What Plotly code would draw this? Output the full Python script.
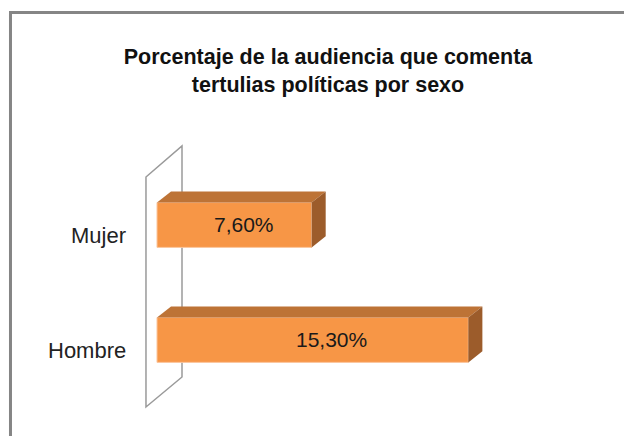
import plotly.graph_objects as go

# datos
categories = ["Hombre", "Mujer"]
values = [15.3, 7.6]
title_text = "Porcentaje de la audiencia que comenta<br>tertulias políticas por sexo"

FRONT = "#F79646"
TOP = "#BD7336"
SIDE = "#9C5C2B"
FONT = "Liberation Sans, Arial, sans-serif"

bar_w = 0.39     # grosor de la barra (unidades de categoria)
dx, dy = 0.69, 0.096   # profundidad del efecto 3D
pos = list(range(len(categories)))

# la pagina tiene un margen de 8px en el body, la figura se reduce para caber sin scroll
fig = go.Figure(
    data=go.Bar(
        x=values,
        y=pos,
        orientation="h",
        width=bar_w,
        marker={"color": FRONT, "line": {"color": "#FBC7A0", "width": 1}},
        hoverinfo="skip",
    ),
    layout={
        "width": 616,
        "height": 428,
        "margin": {"l": 132, "r": 12, "t": 122, "b": 6},
        "paper_bgcolor": "white",
        "plot_bgcolor": "rgba(0,0,0,0)",
        "showlegend": False,
        "hovermode": False,
        "xaxis": {"range": [-0.835, 22.36], "visible": False},
        "yaxis": {"range": [-0.783, 1.826], "visible": False},
        "title": {
            "text": "<b>" + title_text + "</b>",
            "font": {"family": FONT, "size": 21.5, "color": "#111111"},
            "xref": "container", "yref": "container",
            "x": 0.5195, "xanchor": "center",
            "y": 0.8692, "yanchor": "middle",
        },
    },
)

# pared lateral del grafico 3D
fig.add_shape(
    type="path",
    path="M -0.541,1.417 L 1.229,1.687 L 1.229,-0.322 L -0.541,-0.583 Z",
    line={"color": "#9A9A9A", "width": 1.5},
    fillcolor="rgba(0,0,0,0)",
    layer="below",
)

# caras superior y lateral de cada barra
for y, v in zip(pos, values):
    top = y + bar_w / 2
    bot = y - bar_w / 2
    fig.add_shape(
        type="path",
        path=f"M 0,{top} L {dx},{top + dy} L {v + dx},{top + dy} L {v},{top} Z",
        fillcolor=TOP, line={"width": 0}, layer="above",
    )
    fig.add_shape(
        type="path",
        path=f"M {v},{top} L {v + dx},{top + dy} L {v + dx},{bot + dy} L {v},{bot} Z",
        fillcolor=SIDE, line={"width": 0}, layer="above",
    )
    # etiqueta de valor
    fig.add_annotation(
        x=v * 0.56, y=y,
        text=f"{v:.2f}".replace(".", ",") + "%",
        showarrow=False,
        font={"family": FONT, "size": 21, "color": "#1A1A1A"},
    )

# etiquetas de categoria
for y, c in zip(pos, categories):
    fig.add_annotation(
        xref="paper", x=-0.025, xanchor="right",
        y=y, yshift=-11,
        text=c, showarrow=False,
        font={"family": FONT, "size": 22, "color": "#222222"},
    )

# marco exterior del grafico
fig.add_shape(
    type="rect", xref="paper", yref="paper",
    x0=-0.2744, x1=1.1, y0=-0.1, y1=1.3917,
    line={"color": "#858585", "width": 3},
)

fig.write_html("out.html")
